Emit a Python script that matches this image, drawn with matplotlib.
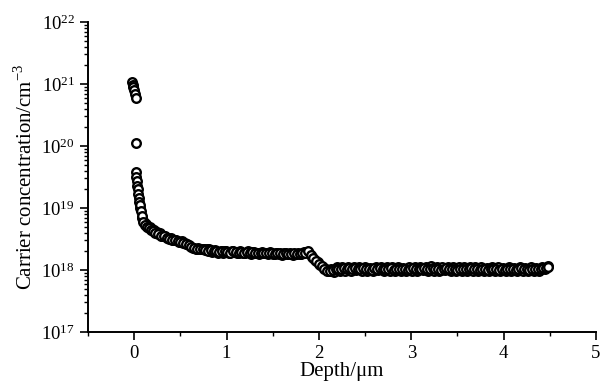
import matplotlib.pyplot as plt
from matplotlib.ticker import LogLocator, MultipleLocator, NullFormatter

plt.switch_backend("Agg")
plt.rcParams["font.family"] = ["Liberation Serif", "DejaVu Serif"]
plt.rcParams["mathtext.fontset"] = "custom"
plt.rcParams["mathtext.rm"] = "Liberation Serif"

# Depth (um) and carrier concentration (cm^-3)
depth_um = [
    -0.02, -0.015, -0.01, 0.0, 0.01, 0.02,
    0.02,
    0.02, 0.025, 0.03, 0.035, 0.04, 0.045, 0.05, 0.055, 0.06, 0.07,
    0.08, 0.10, 0.12, 0.14, 0.16, 0.18, 0.20, 0.23, 0.26, 0.29,
    0.32, 0.35, 0.38, 0.41, 0.44, 0.47, 0.50, 0.53, 0.56, 0.59,
    0.62, 0.65, 0.68, 0.71, 0.74, 0.77, 0.80, 0.83, 0.86, 0.89,
    0.92, 0.95, 0.98, 1.01, 1.04, 1.07, 1.10, 1.13, 1.16, 1.19,
    1.22, 1.25, 1.28, 1.31, 1.34, 1.37, 1.40, 1.43, 1.46, 1.49,
    1.52, 1.55, 1.58, 1.61, 1.64, 1.67, 1.70, 1.73, 1.76, 1.79,
    1.82, 1.85, 1.88, 1.91, 1.94, 1.97, 2.00, 2.03, 2.06, 2.09,
    2.12, 2.15, 2.18, 2.21, 2.24, 2.27, 2.30, 2.33, 2.36, 2.39,
    2.42, 2.45, 2.48, 2.51, 2.54, 2.57, 2.60, 2.63, 2.66, 2.69,
    2.72, 2.75, 2.78, 2.81, 2.84, 2.87, 2.90, 2.93, 2.96, 2.99,
    3.02, 3.05, 3.08, 3.11, 3.14, 3.17, 3.20, 3.23, 3.26, 3.29,
    3.32, 3.35, 3.38, 3.41, 3.44, 3.47, 3.50, 3.53, 3.56, 3.59,
    3.62, 3.65, 3.68, 3.71, 3.74, 3.77, 3.80, 3.83, 3.86, 3.89,
    3.92, 3.95, 3.98, 4.01, 4.04, 4.07, 4.10, 4.13, 4.16, 4.19,
    4.22, 4.25, 4.28, 4.31, 4.34, 4.37, 4.40, 4.43, 4.46, 4.48,
]
conc_cm3 = [
    1.07e21, 9.6e20, 8.8e20, 8.0e20, 7.0e20, 6.0e20,
    1.12e20,
    3.8e19, 3.2e19, 2.7e19, 2.3e19, 2.0e19, 1.7e19, 1.45e19, 1.25e19, 1.1e19, 9.0e18,
    7.5e18, 6.0e18, 5.4e18, 5.0e18, 4.7e18, 4.5e18, 4.3e18, 4.0e18, 3.8e18, 3.6e18,
    3.5e18, 3.3e18, 3.2e18, 3.1e18, 3.0e18, 2.9e18, 2.85e18, 2.7e18, 2.6e18, 2.5e18,
    2.35e18, 2.25e18, 2.2e18, 2.15e18, 2.2e18, 2.1e18, 2.05e18, 2.1e18, 2.0e18, 2.05e18,
    1.95e18, 2.0e18, 2.05e18, 1.95e18, 1.9e18, 2.0e18, 1.95e18, 1.9e18, 1.95e18, 1.9e18,
    1.95e18, 1.88e18, 1.92e18, 1.9e18, 1.85e18, 1.9e18, 1.88e18, 1.85e18, 1.9e18, 1.85e18,
    1.82e18, 1.88e18, 1.85e18, 1.8e18, 1.85e18, 1.82e18, 1.8e18, 1.85e18, 1.8e18, 1.82e18,
    1.85e18, 1.9e18, 2.0e18, 1.75e18, 1.55e18, 1.4e18, 1.25e18, 1.15e18, 1.05e18, 0.98e18,
    0.95e18, 1.0e18, 1.05e18, 1.02e18, 1.05e18, 1.08e18, 1.03e18, 1.06e18, 1.02e18, 1.07e18,
    1.04e18, 1.02e18, 1.06e18, 1.03e18, 1.05e18, 1.01e18, 1.06e18, 1.03e18, 1.07e18, 1.02e18,
    1.05e18, 1.03e18, 1.06e18, 1.01e18, 1.04e18, 1.02e18, 1.05e18, 1.03e18, 1.0e18, 1.04e18,
    1.06e18, 1.02e18, 1.05e18, 1.03e18, 1.07e18, 1.04e18, 1.02e18, 1.06e18, 1.03e18, 1.05e18,
    1.01e18, 1.04e18, 1.06e18, 1.02e18, 1.05e18, 1.03e18, 1.0e18, 1.04e18, 1.02e18, 1.05e18,
    1.03e18, 1.06e18, 1.02e18, 1.04e18, 1.01e18, 1.05e18, 1.03e18, 1.0e18, 1.04e18, 1.02e18,
    1.05e18, 1.01e18, 1.03e18, 1.0e18, 1.04e18, 1.02e18, 1.05e18, 1.01e18, 1.03e18, 1.06e18,
    1.02e18, 1.04e18, 1.01e18, 1.03e18, 1.05e18, 1.02e18, 1.04e18, 1.06e18, 1.08e18, 1.1e18,
]

# second, interleaved sweep (the band in the original is dense)
depth_um_b = [
    0.065, 0.09, 0.11, 0.13, 0.15, 0.17, 0.19,
    0.215, 0.245, 0.275, 0.305, 0.335, 0.365, 0.395, 0.425, 0.455, 0.485,
    0.515, 0.545, 0.575, 0.605, 0.635, 0.665, 0.695, 0.725, 0.755, 0.785,
    0.815, 0.845, 0.875, 0.905, 0.935, 0.965, 0.995, 1.025, 1.055, 1.085,
    1.115, 1.145, 1.175, 1.205, 1.235, 1.265, 1.295, 1.325, 1.355, 1.385,
    1.415, 1.445, 1.475, 1.505, 1.535, 1.565, 1.595, 1.625, 1.655, 1.685,
    1.715, 1.745, 1.775, 1.805, 1.835,
    1.865, 1.895, 1.925, 1.955, 1.985, 2.015, 2.045, 2.075, 2.105, 2.135,
    2.165, 2.195, 2.225, 2.255, 2.285, 2.315, 2.345, 2.375, 2.405, 2.435,
    2.465, 2.495, 2.525, 2.555, 2.585, 2.615, 2.645, 2.675, 2.705, 2.735,
    2.765, 2.795, 2.825, 2.855, 2.885, 2.915, 2.945, 2.975, 3.005, 3.035,
    3.065, 3.095, 3.125, 3.155, 3.185, 3.215, 3.245, 3.275, 3.305, 3.335,
    3.365, 3.395, 3.425, 3.455, 3.485, 3.515, 3.545, 3.575, 3.605, 3.635,
    3.665, 3.695, 3.725, 3.755, 3.785, 3.815, 3.845, 3.875, 3.905, 3.935,
    3.965, 3.995, 4.025, 4.055, 4.085, 4.115, 4.145, 4.175, 4.205, 4.235,
    4.265, 4.295, 4.325, 4.355, 4.385, 4.415, 4.445, 4.475,
]
conc_cm3_b = [
    1.0e19, 6.8e18, 5.9e18, 5.5e18, 5.0e18, 4.9e18, 4.6e18,
    4.4e18, 4.1e18, 3.9e18, 3.6e18, 3.6e18, 3.3e18, 3.3e18, 3.1e18, 3.1e18, 2.85e18,
    2.9e18, 2.75e18, 2.65e18, 2.4e18, 2.3e18, 2.2e18, 2.3e18, 2.2e18, 2.15e18, 2.2e18,
    2.15e18, 1.95e18, 2.1e18, 1.9e18, 2.05e18, 1.9e18, 2.0e18, 1.85e18, 2.05e18, 1.95e18,
    1.85e18, 2.0e18, 1.9e18, 1.85e18, 2.0e18, 1.82e18, 1.95e18, 1.85e18, 1.8e18, 1.95e18,
    1.85e18, 1.8e18, 1.92e18, 1.78e18, 1.9e18, 1.8e18, 1.75e18, 1.88e18, 1.78e18, 1.85e18,
    1.75e18, 1.82e18, 1.88e18, 1.78e18, 1.95e18,
    1.95e18, 1.9e18, 1.65e18, 1.45e18, 1.35e18, 1.2e18, 1.1e18, 1.02e18, 0.97e18, 1.02e18,
    0.92e18, 1.1e18, 0.97e18, 1.12e18, 0.98e18, 1.1e18, 0.96e18, 1.12e18, 0.99e18, 1.1e18,
    0.97e18, 1.11e18, 0.98e18, 1.09e18, 0.97e18, 1.12e18, 0.99e18, 1.1e18, 0.96e18, 1.11e18,
    0.98e18, 1.1e18, 0.97e18, 1.12e18, 0.98e18, 1.09e18, 0.96e18, 1.1e18, 0.98e18, 1.13e18,
    0.97e18, 1.1e18, 0.99e18, 1.12e18, 0.97e18, 1.14e18, 0.98e18, 1.1e18, 0.97e18, 1.12e18,
    0.99e18, 1.1e18, 0.96e18, 1.11e18, 0.98e18, 1.13e18, 0.97e18, 1.1e18, 0.98e18, 1.12e18,
    0.96e18, 1.1e18, 0.98e18, 1.11e18, 0.97e18, 1.09e18, 0.96e18, 1.1e18, 0.98e18, 1.11e18,
    0.97e18, 1.08e18, 0.96e18, 1.1e18, 0.98e18, 1.09e18, 0.96e18, 1.1e18, 0.97e18, 1.08e18,
    0.98e18, 1.1e18, 0.96e18, 1.09e18, 0.98e18, 1.11e18, 1.02e18, 1.14e18,
]

fig = plt.figure(figsize=(6.04, 3.87), dpi=100)
ax = fig.add_axes([88 / 604, 1 - 332 / 387, 508 / 604, 310 / 387])

marker_style = dict(linestyle="none", marker="o", markersize=6.2,
                    markerfacecolor="white", markeredgecolor="black",
                    markeredgewidth=1.7)
ax.plot(depth_um_b, conc_cm3_b, **marker_style)
ax.plot(depth_um, conc_cm3, **marker_style)

ax.set_yscale("log")
ax.set_xlim(-0.5, 5)
ax.set_ylim(1e17, 1e22)

ax.xaxis.set_major_locator(MultipleLocator(1))
ax.xaxis.set_minor_locator(MultipleLocator(0.5))
ax.yaxis.set_major_locator(LogLocator(base=10, numticks=10))
ax.yaxis.set_minor_locator(LogLocator(base=10, subs=range(2, 10), numticks=20))
ax.yaxis.set_minor_formatter(NullFormatter())

for side in ("top", "right"):
    ax.spines[side].set_visible(False)
for side in ("left", "bottom"):
    ax.spines[side].set_linewidth(1.4)

ax.tick_params(which="major", direction="out", length=6, width=1.2, labelsize=13.5)
ax.tick_params(which="minor", direction="out", length=3, width=1.0)

ax.set_xlabel("Depth/μm", fontsize=15, labelpad=0)
ax.set_ylabel("Carrier concentration/cm$^{-3}$", fontsize=15, labelpad=3)

fig.savefig("out.png", dpi=100)
